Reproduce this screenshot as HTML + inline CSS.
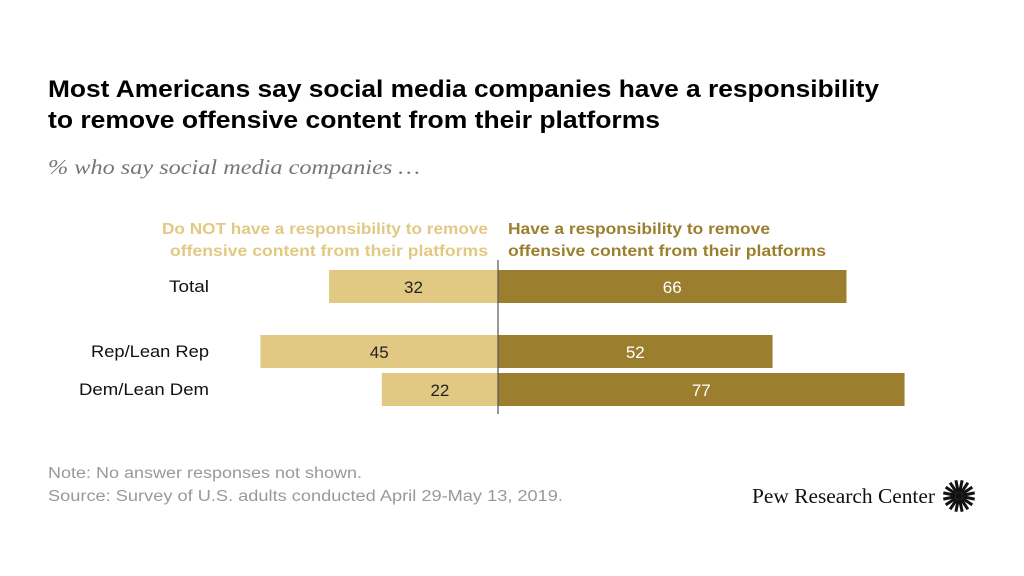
<!DOCTYPE html>
<html><head><meta charset="utf-8"><style>
body{margin:0;background:#fff;}
svg{display:block;font-family:"Liberation Sans",sans-serif;}
</style></head><body>
<svg width="1024" height="576" viewBox="0 0 1024 576">
<text x="48" y="97" font-size="24" font-weight="bold" fill="#000" textLength="831" lengthAdjust="spacingAndGlyphs">Most Americans say social media companies have a responsibility</text>
<text x="48" y="128" font-size="24" font-weight="bold" fill="#000" textLength="612" lengthAdjust="spacingAndGlyphs">to remove offensive content from their platforms</text>
<text x="48" y="174" font-size="21" font-style="italic" fill="#777" font-family="Liberation Serif,serif" textLength="372" lengthAdjust="spacingAndGlyphs">% who say social media companies …</text>
<text x="488" y="234" font-size="15.5" font-weight="bold" fill="#e2c983" text-anchor="end" textLength="326" lengthAdjust="spacingAndGlyphs">Do NOT have a responsibility to remove</text>
<text x="488" y="256" font-size="15.5" font-weight="bold" fill="#e2c983" text-anchor="end" textLength="318" lengthAdjust="spacingAndGlyphs">offensive content from their platforms</text>
<text x="508" y="234" font-size="15.5" font-weight="bold" fill="#9c7f2e" textLength="262" lengthAdjust="spacingAndGlyphs">Have a responsibility to remove</text>
<text x="508" y="256" font-size="15.5" font-weight="bold" fill="#9c7f2e" textLength="318" lengthAdjust="spacingAndGlyphs">offensive content from their platforms</text>
<g id="bars"></g>
<line x1="498" y1="260" x2="498" y2="414" stroke="#555" stroke-width="1.2"/>
<text x="48" y="478" font-size="15.5" fill="#999" textLength="314" lengthAdjust="spacingAndGlyphs">Note: No answer responses not shown.</text>
<text x="48" y="501" font-size="15.5" fill="#999" textLength="515" lengthAdjust="spacingAndGlyphs">Source: Survey of U.S. adults conducted April 29-May 13, 2019.</text>
<text x="752" y="503" font-size="21" fill="#111" font-family="Liberation Serif,serif" textLength="183" lengthAdjust="spacingAndGlyphs">Pew Research Center</text>
<g id="logo" transform="translate(959,496)"></g>
</svg>
<script>
const categories=["Total","Rep/Lean Rep","Dem/Lean Dem"];
const notValues=[32,45,22];
const haveValues=[66,52,77];
const rowY=[270,335,373];
const cx=498, scale=5.28, bh=33;
const x=v=>v*scale;
const g=document.getElementById('bars');
const ns="http://www.w3.org/2000/svg";
function mk(t,a){const e=document.createElementNS(ns,t);for(const k in a)e.setAttribute(k,a[k]);return e;}
const labelW=[40,118,130];
categories.forEach((c,i)=>{
 const y=rowY[i];
 const l=mk('rect',{x:cx-x(notValues[i]),y:y,width:x(notValues[i]),height:bh,fill:'#e2c983'});
 
 
 g.appendChild(l);
 const r=mk('rect',{x:cx,y:y,width:x(haveValues[i]),height:bh,fill:'#9c7f2e'});
 
 
 g.appendChild(r);
 const lt=mk('text',{x:cx-x(notValues[i])/2,y:y+23,'font-size':17,'text-anchor':'middle',fill:'#222'});
 lt.textContent=notValues[i];
 
 
 g.appendChild(lt);
 const rt=mk('text',{x:cx+x(haveValues[i])/2,y:y+23,'font-size':17,'text-anchor':'middle',fill:'#fff'});
 rt.textContent=haveValues[i];
 
 
 g.appendChild(rt);
 const ct=mk('text',{x:209,y:y+22,'font-size':17,'text-anchor':'end',fill:'#111',textLength:labelW[i],lengthAdjust:'spacingAndGlyphs'});
 ct.textContent=c;
 
 
 g.appendChild(ct);
});
const lg=document.getElementById('logo');
for(let k=0;k<16;k++){const a=k*Math.PI/8+Math.PI/16;
 const p=mk('line',{x1:4*Math.cos(a),y1:4*Math.sin(a),x2:16*Math.cos(a),y2:16*Math.sin(a),stroke:'#111','stroke-width':3});
 lg.appendChild(p);}
lg.appendChild(mk('circle',{r:4,fill:'#111'}));
</script>
</body></html>
